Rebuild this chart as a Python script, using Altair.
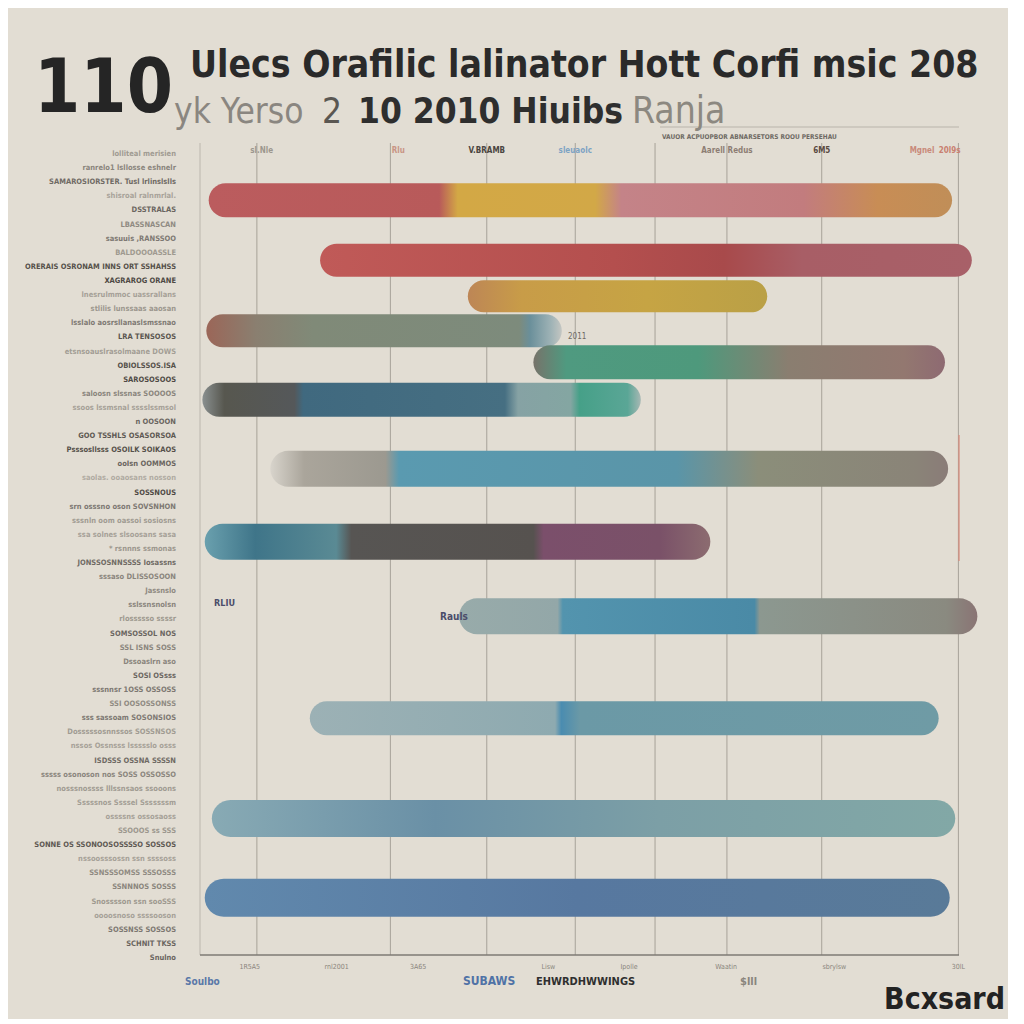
import altair as alt
import pandas as pd

# ---------------- data ----------------
# horizontal position units 0..100 across the plot, vertical 0..100 from top
bar_row = [6.5, 14.0, 18.5, 22.8, 26.7, 31.4, 40.0, 49.1, 58.4, 71.1, 83.6, 93.5]
bar_start = [1.1, 15.2, 33.9, 0.8, 42.2, 0.3, 8.9, 0.6, 32.8, 13.9, 1.5, 0.6]
bar_end = [95.2, 97.7, 71.8, 45.8, 94.3, 55.8, 94.7, 64.6, 98.4, 93.5, 95.6, 94.9]

grid_values = [7.2, 24.1, 36.3, 47.5, 57.6, 66.7, 78.7, 96.0]

top_labels = ["sl.Nle", "Rlu", "V.BRAMB", "sleuaolc", "Aarell Redus", "6M5", "Mgnel", "20l9s"]
top_pos = [7.8, 25.1, 36.3, 47.5, 66.7, 78.7, 91.4, 94.9]
top_colors = ["#9c978e", "#c99585", "#4a4540", "#7da3c4", "#8d7d73", "#5a4a40", "#c98a7a", "#c98070"]

bottom_labels = ["1R5A5", "rnl2001", "3A65", "Lisw", "Ipolle", "Waatin", "sbrylsw", "30lL"]
bottom_pos = [6.3, 17.3, 27.6, 44.1, 54.3, 66.6, 80.3, 96.0]

left_labels = [
    "lolliteal merisien", "ranrelo1 lsllosse eshnelr", "SAMAROSIORSTER. Tusl lrlinslslls",
    "shisroal ralnmrlal.", "DSSTRALAS", "LBASSNASCAN", "sasuuis ,RANSSOO", "BALDOOOASSLE",
    "ORERAIS OSRONAM INNS ORT SSHAHSS", "XAGRAROG ORANE", "lnesrulmmoc uassrallans",
    "stlilis lunssaas aaosan", "lsslalo aosrsllanaslsmssnao", "LRA TENSOSOS",
    "etsnsoauslrasolmaane DOWS", "OBIOLSSOS.ISA", "SAROSOSOOS", "saloosn slssnas SOOOOS",
    "ssoos lssmsnal sssslssmsol", "n OOSOON", "GOO TSSHLS OSASORSOA",
    "Psssosllsss OSOILK SOIKAOS", "ooIsn OOMMOS", "saolas. ooaosans nosson",
    "SOSSNOUS", "srn osssno oson SOVSNHON", "sssnln oom oassoi sosiosns",
    "ssa solnes slsoosans sasa", "* rsnnns ssmonas", "JONSSOSNNSSSS  Iosassns",
    "sssaso DLISSOSOON", "Jassnslo", "sslssnsnolsn", "rlossssso ssssr",
    "SOMSOSSOL NOS", "SSL ISNS SOSS", "Dssoaslrn aso", "SOSI OSsss",
    "sssnnsr 1OSS OSSOSS", "SSI OOSOSSONSS", "sss sassoam SOSONSIOS",
    "Dosssssosnnssos SOSSNSOS", "nssos Ossnsss  lssssslo osss", "ISDSSS OSSNA SSSSN",
    "sssss osonoson nos SOSS OSSOSSO", "nosssnossss lllssnsaos ssooons",
    "Sssssnos Ssssel  Sssssssm", "ossssns ossosaoss", "SSOOOS  ss SSS",
    "SONNE  OS  SSONOOSOSSSSO  SOSSOS", "nssoosssossn ssn ssssoss",
    "SSNSSSOMSS SSSOSSS", "SSNNNOS SOSSS", "Snosssson ssn sooSSS",
    "oooosnoso ssssooson", "SOSSNSS SOSSOS", "SCHNIT TKSS", "Snulno",
]
left_tone = [
    "#a09b92", "#8a857d", "#6f6a64", "#a8a39a", "#6a655f", "#8f8a82", "#7d7872", "#9e998f",
    "#55504a", "#4e4944", "#a6a198", "#9c978e", "#7f7a73", "#5a554f",
    "#a39e95", "#55504a", "#4f4a45", "#8a857d", "#a6a198", "#6a655f", "#5d5852",
    "#55504a", "#6a655f", "#b0aba2",
    "#4f4a45", "#7d7872", "#a09b92", "#a6a198", "#9c978e", "#6f6a64",
    "#8a857d", "#8f8a82", "#8a857d", "#9e998f",
    "#6a655f", "#8a857d", "#8a857d", "#6a655f",
    "#7d7872", "#8f8a82", "#7d7872",
    "#a09b92", "#a6a198", "#6f6a64",
    "#8a857d", "#a09b92",
    "#a39e95", "#a6a198", "#9c978e",
    "#5d5852", "#a6a198",
    "#8f8a82", "#8a857d", "#9e998f",
    "#a6a198", "#7d7872", "#6a655f", "#6a655f",
]

# ---------------- styles ----------------
W, H = 790, 812
BG = "#e2ddd3"
COND = "DejaVu Sans Condensed, sans-serif"

bar_size = [34, 33, 32, 33, 34, 34, 36, 36, 36, 34, 37, 38]
bar_stops = [
    [(0, "#bb5c5e"), (0.31, "#b85a5a"), (0.335, "#d3a845"), (0.52, "#d2a847"), (0.555, "#c48388"),
     (0.80, "#c27c7e"), (0.90, "#c88d55"), (1, "#c08e58")],
    [(0, "#c05a58"), (0.45, "#b44f4e"), (0.62, "#a84a4b"), (0.74, "#a85e66"), (1, "#a86068")],
    [(0, "#bd8656"), (0.18, "#c89c48"), (0.6, "#c6a444"), (1, "#baa046")],
    [(0, "#9b6658"), (0.14, "#8a7f70"), (0.3, "#808a78"), (0.88, "#7d8b7c"), (0.91, "#6a8f9a"),
     (0.97, "#9fb3b6"), (1, "#c4c6c2")],
    [(0, "#77736a"), (0.08, "#4f9a80"), (0.4, "#4e997c"), (0.62, "#8a7e70"), (0.9, "#937870"), (1, "#8e6a72")],
    [(0, "#8a9090"), (0.05, "#57574f"), (0.21, "#55585a"), (0.23, "#40697f"), (0.69, "#466f82"),
     (0.72, "#86a2a4"), (0.84, "#84a6a2"), (0.86, "#46a088"), (0.97, "#5aa696"), (1, "#a7b8b4")],
    [(0, "#d8d4cc"), (0.05, "#aaa59b"), (0.17, "#9c9990"), (0.19, "#5a9ab0"), (0.6, "#5a95a8"),
     (0.72, "#8b8e7a"), (0.95, "#8a8478"), (1, "#8a7c78")],
    [(0, "#6aa0ae"), (0.1, "#3f7589"), (0.26, "#5a8a94"), (0.29, "#575553"), (0.65, "#56524f"),
     (0.67, "#7b4f6b"), (0.9, "#7a5168"), (1, "#8c6c70")],
    [(0, "#98abaa"), (0.19, "#93a7a8"), (0.2, "#5394ae"), (0.57, "#4a8aa6"), (0.58, "#8c9890"),
     (0.94, "#8a8a80"), (1, "#8a7474")],
    [(0, "#9cb1b5"), (0.39, "#8eaab0"), (0.4, "#4a8cb0"), (0.43, "#6b99a6"), (1, "#6f9ba5")],
    [(0, "#88aab4"), (0.3, "#6a90a6"), (0.6, "#7c9fa6"), (1, "#82a8a6")],
    [(0, "#6189ad"), (0.5, "#5778a0"), (1, "#597a98")],
]

xscale = alt.Scale(domain=[0, 100], nice=False, zero=False)
yscale = alt.Scale(domain=[0, 100], nice=False, zero=False, reverse=True)

layers = []

# vertical grid lines
grid_df = pd.DataFrame({"g": grid_values})
layers.append(
    alt.Chart(grid_df).mark_rule(color="#a7a299", strokeWidth=1).encode(
        x=alt.X("g:Q", scale=xscale, axis=None)
    )
)

# frame lines
frame_df = pd.DataFrame({"k": [0]})
layers.append(alt.Chart(frame_df).mark_rule(color="#bcb7ae", strokeWidth=1).encode(
    x=alt.value(0), y=alt.value(0), y2=alt.value(H)))
layers.append(alt.Chart(frame_df).mark_rule(color="#7e7a74", strokeWidth=1.5).encode(
    x=alt.value(0), x2=alt.value(759), y=alt.value(H)))
layers.append(alt.Chart(frame_df).mark_rule(color="#b9b4ab", strokeWidth=1).encode(
    x=alt.value(460), x2=alt.value(759), y=alt.value(-16)))
layers.append(alt.Chart(frame_df).mark_rule(color="#d8897a", strokeWidth=1.2).encode(
    x=alt.value(759), y=alt.value(292), y2=alt.value(418)))

# bars
for i in range(len(bar_row)):
    df = pd.DataFrame({"row": [bar_row[i]], "start": [bar_start[i]], "end": [bar_end[i]]})
    grad = alt.LinearGradient(
        gradient="linear",
        stops=[alt.GradientStop(offset=o, color=c) for o, c in bar_stops[i]],
        x1=0, x2=1, y1=0, y2=0,
    )
    layers.append(
        alt.Chart(df).mark_bar(size=bar_size[i], cornerRadius=bar_size[i] / 2, color=grad).encode(
            x=alt.X("start:Q", scale=xscale, axis=None),
            x2="end:Q",
            y=alt.Y("row:Q", scale=yscale, axis=None),
        )
    )

# top labels inside plot
top_df = pd.DataFrame({"t": top_labels, "p": top_pos, "c": top_colors})
layers.append(
    alt.Chart(top_df).mark_text(font=COND, fontSize=8, fontWeight="bold", baseline="middle").encode(
        x=alt.X("p:Q", scale=xscale, axis=None),
        y=alt.value(8),
        text="t:N",
        color=alt.Color("c:N", scale=None),
    )
)

# bottom tick labels
bot_df = pd.DataFrame({"t": bottom_labels, "p": bottom_pos})
layers.append(
    alt.Chart(bot_df).mark_text(font=COND, fontSize=7, color="#8a857d", baseline="middle").encode(
        x=alt.X("p:Q", scale=xscale, axis=None),
        y=alt.value(H + 12),
        text="t:N",
    )
)

# left labels
left_df = pd.DataFrame({"t": left_labels, "i": list(range(len(left_labels))), "c": left_tone})
layers.append(
    alt.Chart(left_df).mark_text(font=COND, fontSize=7.5, fontWeight="bold", align="right",
                                 baseline="middle").encode(
        x=alt.value(-24),
        y=alt.Y("i:O", axis=None, scale=alt.Scale(paddingOuter=0.1, range=[4, H + 10])),
        text="t:N",
        color=alt.Color("c:N", scale=None),
    )
)


def note(text, x, y, size, color, weight="normal", font=COND, align="left", baseline="alphabetic"):
    return alt.Chart(pd.DataFrame({"t": [text]})).mark_text(
        font=font, fontSize=size, color=color, fontWeight=weight, align=align, baseline=baseline
    ).encode(text="t:N", x=alt.value(x), y=alt.value(y))


# titles and loose annotations
layers += [
    note("110", -166, -31, 74, "#252525", "bold"),
    note("Ulecs Orafilic lalinator Hott Corfi msic 208", -10, -66, 37, "#2a2a2a", "bold"),
    note("yk Yerso", -26, -20, 35, "#8a8680", "normal"),
    note("2", 122, -20, 35, "#5a5752", "normal"),
    note("10 2010 Hiuibs", 158, -20, 35, "#2e2e2e", "bold"),
    note("Ranja", 432, -20, 37, "#8c8880", "normal"),
    note("VAUOR ACPUOPBOR ABNARSETORS ROOU PERSEHAU", 462, -4, 6.5, "#6e6a64", "bold"),
    note("2011", 368, 196, 8, "#6e6a64"),
    note("Rauls", 240, 477, 10, "#4b4d6a", "bold"),
    note("RLIU", 14, 463, 9, "#4b4d6a", "bold"),
    note("Soulbo", -15, 842, 10, "#5a78a8", "bold"),
    note("SUBAWS", 263, 842, 12, "#4f72a6", "bold"),
    note("EHWRDHWWINGS", 336, 842, 11, "#2f2f2f", "bold"),
    note("$lll", 540, 842, 11, "#8a857d", "bold"),
    note("Bcxsard", 805, 866, 30, "#222222", "bold", COND, "right"),
]

chart = alt.layer(*layers).resolve_scale(y="independent").properties(
    width=W, height=H,
    autosize=alt.AutoSizeParams(type="none"),
    padding={"left": 192, "top": 135, "right": 18, "bottom": 64},
    background=BG,
).configure_view(stroke=None)

chart.save("out.html", embed_options={"renderer": "svg", "actions": False})
